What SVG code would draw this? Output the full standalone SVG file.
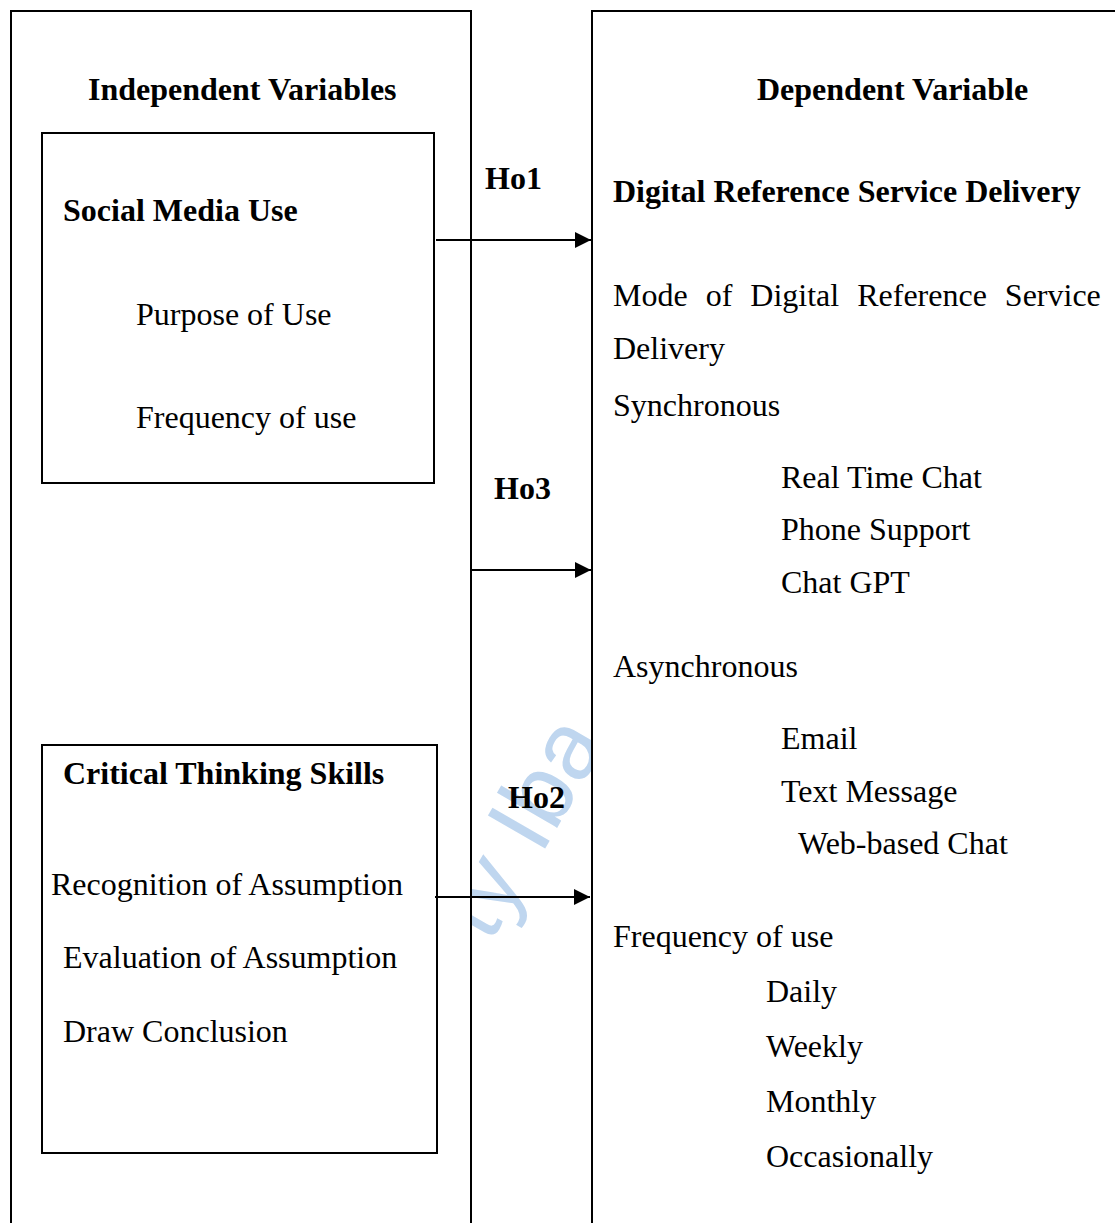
<svg xmlns="http://www.w3.org/2000/svg" width="1115" height="1223" viewBox="0 0 1115 1223">
<style>
.t{font-family:"Liberation Serif","Times New Roman",serif;font-size:32px;fill:#000}
.b{font-weight:bold}
.frame{fill:none;stroke:#000;stroke-width:2}
.box{fill:#fff;stroke:#000;stroke-width:2}
.conn{stroke:#000;stroke-width:2;fill:none}
.wm{font-family:"Liberation Sans",Arial,sans-serif;font-size:96px;fill:#bfd6ef}
</style>
<defs>
<marker id="arr" markerWidth="16" markerHeight="16" refX="16" refY="8" orient="auto" markerUnits="userSpaceOnUse">
<path d="M0,0 L16,8 L0,16 Z" fill="#000"/>
</marker>
<clipPath id="gap"><rect x="472" y="0" width="119" height="1223"/></clipPath>
</defs>
<rect width="1115" height="1223" fill="#fff"/>
<g clip-path="url(#gap)">
<text class="wm" transform="translate(490,944) rotate(-60)">ty Iba</text>
</g>
<g id="independent">
<path class="frame" d="M11,1224 V11 H471 V1224"/>
<text class="t b" x="88" y="100">Independent Variables</text>
</g>
<g id="social-media-use">
<rect class="box" x="42" y="133" width="392" height="350"/>
<text class="t b" x="63" y="221">Social Media Use</text>
<text class="t" x="136" y="325">Purpose of Use</text>
<text class="t" x="136" y="428">Frequency of use</text>
</g>
<g id="critical-thinking">
<rect class="box" x="42" y="745" width="395" height="408"/>
<text class="t b" x="63" y="784">Critical Thinking Skills</text>
<text class="t" x="51" y="895">Recognition of Assumption</text>
<text class="t" x="63" y="968">Evaluation of Assumption</text>
<text class="t" x="63" y="1042">Draw Conclusion</text>
</g>
<g id="dependent">
<path class="frame" d="M592,1224 V11 H1116"/>
<text class="t b" x="757" y="100">Dependent Variable</text>
<text class="t b" x="613" y="202">Digital Reference Service Delivery</text>
<text class="t" x="613" y="306" word-spacing="10">Mode of Digital Reference Service</text>
<text class="t" x="613" y="359">Delivery</text>
<text class="t" x="613" y="416">Synchronous</text>
<text class="t" x="781" y="488">Real Time Chat</text>
<text class="t" x="781" y="540">Phone Support</text>
<text class="t" x="781" y="593">Chat GPT</text>
<text class="t" x="613" y="677">Asynchronous</text>
<text class="t" x="781" y="749">Email</text>
<text class="t" x="781" y="802">Text Message</text>
<text class="t" x="798" y="854">Web-based Chat</text>
<text class="t" x="613" y="947">Frequency of use</text>
<text class="t" x="766" y="1002">Daily</text>
<text class="t" x="766" y="1057">Weekly</text>
<text class="t" x="766" y="1112">Monthly</text>
<text class="t" x="766" y="1167">Occasionally</text>
</g>
<g id="connectors">
<line class="conn" x1="436" y1="240" x2="591" y2="240" marker-end="url(#arr)"/>
<line class="conn" x1="471" y1="570" x2="591" y2="570" marker-end="url(#arr)"/>
<line class="conn" x1="435" y1="897" x2="590" y2="897" marker-end="url(#arr)"/>
<text class="t b" x="485" y="189">Ho1</text>
<text class="t b" x="494" y="499">Ho3</text>
<text class="t b" x="508" y="808">Ho2</text>
</g>
</svg>
